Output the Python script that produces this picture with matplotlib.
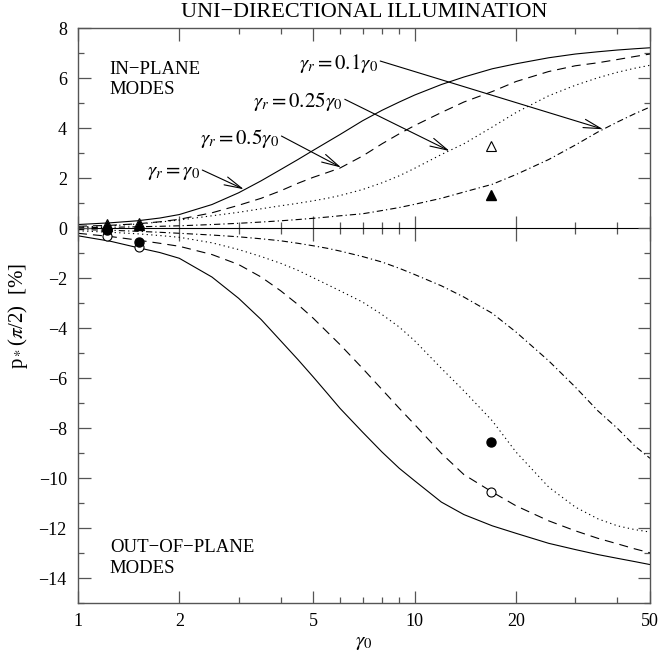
import matplotlib
matplotlib.use("Agg")
import matplotlib.pyplot as plt
from matplotlib.ticker import FixedLocator, FixedFormatter, NullFormatter

plt.rcParams['font.family'] = ['Liberation Serif', 'DejaVu Serif']
plt.rcParams['mathtext.fontset'] = 'stix'
plt.rcParams['lines.scale_dashes'] = False

# gamma_0 grid at which the curves were read
g0 = [1, 1.25, 1.5, 1.75, 2, 2.5, 3, 3.5, 4, 4.5, 5, 5.5, 6, 7, 8, 9, 10,
      12, 14, 17, 20, 25, 30, 35, 40, 45, 50]

# in-plane modes (upper half)
in_1 = [0.15, 0.22, 0.3, 0.41, 0.55, 0.95, 1.42, 1.9, 2.35, 2.75, 3.12, 3.45, 3.75,
        4.3, 4.72, 5.05, 5.33, 5.75, 6.05, 6.38, 6.58, 6.82, 6.97, 7.06, 7.13, 7.18, 7.22]
in_05 = [0.08, 0.12, 0.18, 0.26, 0.36, 0.62, 0.92, 1.2, 1.5, 1.8, 2.04, 2.23, 2.41,
         2.89, 3.38, 3.78, 4.11, 4.63, 5.05, 5.47, 5.87, 6.27, 6.5, 6.62, 6.75, 6.87, 6.97]
in_025 = [0.05, 0.1, 0.17, 0.25, 0.33, 0.5, 0.64, 0.78, 0.9, 1.0, 1.1, 1.2, 1.31,
          1.55, 1.82, 2.1, 2.4, 2.95, 3.38, 4.05, 4.63, 5.3, 5.72, 6.02, 6.24, 6.4, 6.52]
in_01 = [0.02, 0.04, 0.06, 0.08, 0.1, 0.15, 0.2, 0.25, 0.3, 0.35, 0.4, 0.45, 0.5,
         0.58, 0.71, 0.83, 0.96, 1.2, 1.45, 1.76, 2.15, 2.75, 3.33, 3.85, 4.25, 4.58, 4.85]

# out-of-plane modes (lower half)
out_1 = [-0.3, -0.52, -0.77, -0.97, -1.2, -1.95, -2.8, -3.65, -4.5, -5.25, -5.95, -6.6, -7.2,
         -8.15, -8.95, -9.6, -10.1, -10.95, -11.45, -11.9, -12.2, -12.6, -12.85, -13.05, -13.2, -13.33, -13.45]
out_05 = [-0.2, -0.33, -0.47, -0.6, -0.72, -1.05, -1.45, -1.95, -2.5, -3.05, -3.6, -4.15, -4.65,
          -5.6, -6.45, -7.2, -7.85, -9.0, -9.85, -10.55, -11.1, -11.7, -12.1, -12.4, -12.62, -12.82, -12.98]
out_025 = [-0.1, -0.16, -0.22, -0.29, -0.36, -0.58, -0.85, -1.13, -1.4, -1.68, -1.98, -2.25, -2.5,
           -2.95, -3.45, -3.95, -4.5, -5.6, -6.5, -7.7, -8.95, -10.35, -11.15, -11.62, -11.9, -12.05, -12.15]
out_01 = [-0.05, -0.08, -0.12, -0.16, -0.2, -0.27, -0.34, -0.42, -0.5, -0.6, -0.7, -0.8, -0.91,
          -1.13, -1.35, -1.6, -1.85, -2.3, -2.75, -3.4, -4.15, -5.3, -6.35, -7.3, -8.0, -8.7, -9.2]

# measured points
tri_x = [1.22, 1.52, 16.8]
tri_open_y = [0.18, 0.22, 3.29]
tri_fill_y = [0.1, 0.12, 1.33]
circ_x = [1.22, 1.52, 16.8]
circ_fill_y = [-0.08, -0.53, -8.55]
circ_open_y = [-0.3, -0.75, -10.53]

labels = [r'$\gamma_r=0.1\gamma_0$', r'$\gamma_r=0.25\gamma_0$',
          r'$\gamma_r=0.5\gamma_0$', r'$\gamma_r=\gamma_0$']
label_start = [(7.9, 6.69), (6.2, 5.16), (4.02, 3.69), (2.34, 2.33)]
label_tip = [(36.3, 3.96), (12.7, 3.09), (6.05, 2.43), (3.11, 1.56)]

xmajor = [1, 2, 5, 10, 20, 50]
xminor = [3, 4, 6, 7, 8, 9, 30, 40]
ylim = (-15, 8)

fig = plt.figure(figsize=(6.62, 6.56), dpi=100)
ax = fig.add_axes([0.1178, 0.0803, 0.8641, 0.8766])

styles = [dict(ls='-'), dict(ls=(0, (6.5, 4.3))), dict(ls=(0, (0.9, 2.4))),
          dict(ls=(0, (4.5, 2.2, 0.9, 2.2)))]
for ys_in, ys_out, st in zip([in_1, in_05, in_025, in_01],
                             [out_1, out_05, out_025, out_01], styles):
    ax.plot(g0, ys_in, color='black', lw=0.8, **st)
    ax.plot(g0, ys_out, color='black', lw=0.8, **st)

ax.plot(tri_x, tri_open_y, '^', ms=7, mfc='white', mec='black', mew=0.8, ls='none')
ax.plot(tri_x, tri_fill_y, '^', ms=7, mfc='black', mec='black', ls='none')
ax.plot(circ_x, circ_open_y, 'o', ms=6.5, mfc='white', mec='black', mew=0.8, ls='none')
ax.plot(circ_x, circ_fill_y, 'o', ms=6.5, mfc='black', mec='black', ls='none')

for lab, (sx, sy), (tx, ty) in zip(labels, label_start, label_tip):
    ax.annotate('', xy=(tx, ty), xytext=(sx, sy),
                arrowprops=dict(arrowstyle='->,head_length=0.9,head_width=0.22',
                                color='black', lw=0.8, shrinkA=0, shrinkB=0,
                                mutation_scale=14))
    ax.text(sx * 0.985, sy - 0.1, lab, ha='right', va='center', fontsize=15)

ax.text(1.243, 6.7, 'IN\u2212PLANE\nMODES', ha='left', va='top', fontsize=13.5,
        linespacing=1.25)
ax.text(1.243, -12.44, 'OUT\u2212OF\u2212PLANE\nMODES', ha='left', va='top',
        fontsize=13.5, linespacing=1.25)

ax.set_xscale('log')
ax.set_xlim(1, 50)
ax.set_ylim(*ylim)
ax.xaxis.set_major_locator(FixedLocator(xmajor))
ax.xaxis.set_major_formatter(FixedFormatter([str(v) for v in xmajor]))
ax.xaxis.set_minor_locator(FixedLocator(xminor))
ax.xaxis.set_minor_formatter(NullFormatter())
ax.set_yticks(range(-14, 9, 2))
ax.set_yticks(range(-15, 9), minor=True)

frame = '#555555'
for sp in ax.spines.values():
    sp.set_color(frame)
    sp.set_linewidth(1.0)
ax.tick_params(which='both', direction='in', top=True, right=True, color=frame,
               labelsize=13)
ax.tick_params(which='major', length=9, width=0.9)
ax.tick_params(which='minor', length=4.6, width=0.9)
ax.tick_params(axis='x', pad=7)
ax.tick_params(axis='y', pad=8)

# zero line with crossing ticks
zero_loc = (0 - ylim[0]) / (ylim[1] - ylim[0])
zax = ax.secondary_xaxis(zero_loc)
zax.spines['bottom'].set_color('#333333')
zax.spines['bottom'].set_linewidth(0.9)
zax.xaxis.set_major_locator(FixedLocator(xmajor))
zax.xaxis.set_minor_locator(FixedLocator(xminor))
zax.xaxis.set_major_formatter(NullFormatter())
zax.xaxis.set_minor_formatter(NullFormatter())
zax.tick_params(which='major', direction='inout', length=18, width=0.9, color=frame)
zax.tick_params(which='minor', direction='inout', length=9, width=0.9, color=frame)

ax.set_title('UNI\u2212DIRECTIONAL ILLUMINATION', fontsize=16, pad=8)
ax.set_xlabel(r'$\gamma_0$', fontsize=15, labelpad=2)
ax.set_ylabel(r'p$_*$($\pi$/2)  [%]', fontsize=15, labelpad=6)

fig.savefig('out.png', dpi=100)
